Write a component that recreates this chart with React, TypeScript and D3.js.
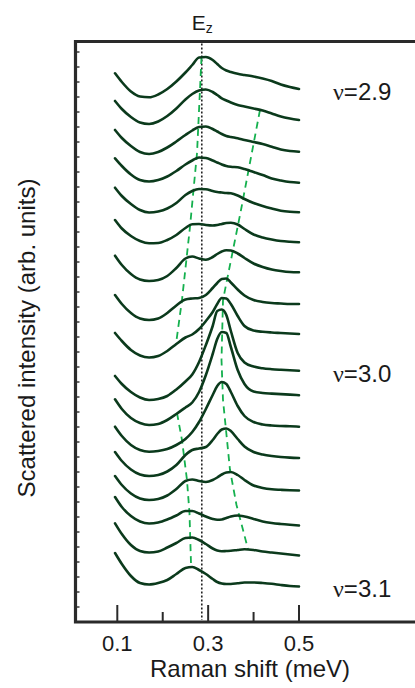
import React from 'react';
import * as d3 from 'd3';

// Raman shift sample positions (meV), shared by every spectrum
const shifts = [0.095, 0.11, 0.13, 0.15, 0.17, 0.19, 0.21, 0.23, 0.25, 0.265, 0.28, 0.295, 0.31, 0.32, 0.33, 0.34, 0.35, 0.365, 0.38, 0.40, 0.42, 0.44, 0.46, 0.48, 0.50];

// vertical offsets of each spectrum (arb. units), top (nu=2.9) to bottom (nu=3.1)
const offsets = [533, 502, 470, 439, 410, 380, 350, 318, 288, 251, 227, 195, 164, 132, 97, 67, 36];

// intensities relative to each offset (arb. units)
const s01 = [15.7, 7, -2.5, -7.5, -8.3, -5.5, 0, 7.5, 16.5, 24, 31.5, 32, 29, 25, 21, 18.5, 17, 15.2, 14, 12.5, 10.5, 8, 4.5, 2, 0];
const s02 = [19, 11, 3, -2.5, -4, -1.5, 4, 11.5, 20.5, 26, 29.5, 30.5, 28, 25, 21.7, 19.5, 17.5, 15, 13.5, 11.5, 9.5, 6.5, 3.5, 1.5, 0];
const s03 = [22, 14, 6, 0, -2, 0, 4.5, 10.5, 17, 21.5, 25, 25.5, 23, 20.5, 18, 16, 15, 13.7, 12, 10, 8, 5.3, 2.5, 1, 0.3];
const s04 = [24.7, 17, 8.5, 3, 1.5, 3, 6.5, 12, 18.5, 22.5, 25.5, 25, 22.5, 20.5, 18.5, 17, 16.2, 15.7, 14, 11, 8, 4.5, 2.5, 1, 0.3];
const s05 = [24.3, 16, 8, 2, -0.5, 0.5, 3.5, 9, 17, 21, 23, 22.8, 21, 20, 19.5, 19, 18.7, 16.5, 13, 9, 6, 3.5, 1.3, 0.2, -0.3];
const s06 = [22, 13.5, 6, 1, -1.3, -1, 2, 7, 14, 17.8, 18, 17, 16.5, 17, 18, 19, 19.2, 17.5, 13, 7.5, 4.5, 2.5, 1, 0.2, -0.3];
const s07 = [16.3, 7, -2, -7.5, -9, -8, -4, 4, 13.5, 15.5, 13.5, 12.2, 15, 18, 20.5, 21.8, 21.5, 18.5, 14, 8.5, 5, 2.5, 1, 0, -0.3];
const s08 = [9, 0, -9, -14.5, -16, -14.5, -9, -1.5, 4.5, 5.5, 6, 9, 16, 21, 25, 25.5, 21.5, 14.5, 8.5, 4, 2, 1, 0.5, 0, 0];
const s09 = [1, -7, -16, -21.5, -23.5, -22, -17, -10, -3.5, -0.5, 5, 13, 22, 30, 36, 35.5, 30, 18, 8, 3.5, 2.2, 1.5, 1, 0.5, 0];
const s10 = [-5, -13, -21, -26.5, -29, -28, -25, -18.5, -10.5, -3.5, 9, 26, 45, 60, 61.5, 56, 40, 18, 8.5, 4.5, 2.7, 1.8, 1.2, 0.7, 0.3];
const s11 = [-4.3, -14, -23, -28, -30, -29, -25, -19, -12.5, -7.5, 3, 20, 41, 56, 63, 62, 48, 25, 11, 3.5, 2, 1.4, 0.9, 0.4, -0.2];
const s12 = [0.3, -9, -18, -23, -24.7, -24, -22, -18, -12, -5, 5, 18, 32, 41, 45, 43, 35, 21, 11, 5, 2.5, 1.5, 1, 0.7, 0.3];
const s13 = [6, -3, -11.5, -16.5, -18, -17, -13.5, -7, 3, 8, 9.5, 11, 18, 24, 28.5, 29.5, 27, 19, 11.5, 6, 3.5, 2, 1, 0.4, 0];
const s14 = [14, 5, -3.5, -8.5, -10, -9, -5.5, 1, 9, 10.5, 9, 8, 10, 12.5, 15.5, 17.5, 18, 15, 10, 4.5, 2, 0.7, 0.2, -0.2, -0.5];
const s15 = [28, 18, 9, 3.5, 1.5, 2.5, 5.5, 9.5, 14, 14, 11.5, 8.5, 6, 5.2, 5.5, 7, 8.5, 9.5, 8.5, 6, 3.5, 2, 1, 0.2, -0.5];
const s16 = [31.7, 21, 10, 4, 2.5, 3.5, 7.5, 12, 17, 17.5, 15, 11, 6.5, 4.5, 3.8, 4, 4.2, 5, 5.7, 5, 3.5, 2.5, 1.5, 0.5, -0.5];
const s17 = [33, 22, 10, 3, 1.5, 3, 6, 12, 18, 19, 16, 12, 7, 4, 2.5, 2, 2, 2.7, 3.5, 3.5, 3, 2.2, 1, 0, -0.5];
const spectra = [s01, s02, s03, s04, s05, s06, s07, s08, s09, s10, s11, s12, s13, s14, s15, s16, s17];

// peak-tracking guides: [shift (meV), intensity (arb. units)]
const guideUpperLeft = [[0.2854, 565], [0.2755, 469], [0.260, 395], [0.2424, 322], [0.2292, 278]];
const guideRight = [[0.4141, 512], [0.3723, 412], [0.3327, 322], [0.3294, 262], [0.3327, 222], [0.3393, 192], [0.3481, 152], [0.3624, 117], [0.3877, 73]];
const guideLowerLeft = [[0.2314, 209], [0.2424, 182], [0.2534, 142], [0.2589, 109], [0.2622, 59]];

const ezShift = 0.286;
const xMajorTicks = [0.1, 0.3, 0.5];
const xMinorTicks = [0.2, 0.4];
const yMinorTicks = d3.range(15, 580, 15);
const fillingLabels = [
  { nu: '2.9', spectrum: 0 },
  { nu: '3.0', spectrum: 9 },
  { nu: '3.1', spectrum: 16 },
];

const W = 415;
const H = 688;
const frameLeft = 75.5;
const frameTop = 41.5;
const frameBottom = 622;

export default function App() {
  const x = d3.scaleLinear().domain([0.1, 0.5]).range([117.3, 299]);
  const y = d3.scaleLinear().domain([0, 581]).range([622, 41]);

  const line = d3
    .line<number>()
    .x((_, i) => x(shifts[i]))
    .y((d) => d)
    .curve(d3.curveMonotoneX);

  const guide = d3
    .line<number[]>()
    .x((d) => x(d[0]))
    .y((d) => y(d[1]));

  const sans = '"Liberation Sans", Arial, sans-serif';
  const serif = '"Liberation Serif", "Times New Roman", serif';
  const axisColor = '#2a2a2a';

  return (
    <svg width={W} height={H} style={{ position: 'absolute', left: 0, top: 0, background: '#fff' }}>
      {/* Ez marker */}
      <line x1={x(ezShift)} x2={x(ezShift)} y1={frameTop + 2} y2={frameBottom - 2} stroke="#222" strokeWidth={1.6} strokeDasharray="2,2" />
      <text x={x(ezShift) - 10} y={30} fontFamily={sans} fontSize={21} fill="#1a1a1a">
        E<tspan fontSize={14} dy={3}>z</tspan>
      </text>

      {/* guides */}
      {[guideUpperLeft, guideRight, guideLowerLeft].map((g, i) => (
        <path key={'g' + i} d={guide(g) || ''} fill="none" stroke="#14b04e" strokeWidth={1.8} strokeDasharray="7,5" />
      ))}

      {/* spectra */}
      {spectra.map((s, i) => (
        <path
          key={'s' + i}
          d={line(s.map((v) => y(offsets[i] + v))) || ''}
          fill="none"
          stroke="#0b3a1c"
          strokeWidth={2.6}
          strokeLinejoin="round"
          strokeLinecap="round"
        />
      ))}

      {/* frame */}
      <path d={`M${W + 5},${frameTop} H${frameLeft} V${frameBottom} H${W + 5}`} fill="none" stroke={axisColor} strokeWidth={3.2} />

      {/* y minor ticks */}
      {yMinorTicks.map((t) => (
        <line key={'yt' + t} x1={frameLeft + 1.5} x2={frameLeft + 4} y1={y(t)} y2={y(t)} stroke={axisColor} strokeWidth={1.4} />
      ))}

      {/* x ticks */}
      {xMajorTicks.map((t) => (
        <line key={'xM' + t} x1={x(t)} x2={x(t)} y1={frameBottom - 17} y2={frameBottom} stroke={axisColor} strokeWidth={2} />
      ))}
      {xMinorTicks.map((t) => (
        <line key={'xm' + t} x1={x(t)} x2={x(t)} y1={frameBottom - 10} y2={frameBottom} stroke={axisColor} strokeWidth={2} />
      ))}
      {xMajorTicks.map((t) => (
        <text key={'xl' + t} x={x(t)} y={651} textAnchor="middle" fontFamily={sans} fontSize={22} fill="#1a1a1a">
          {d3.format('.1f')(t)}
        </text>
      ))}
      <text x={250} y={677} textAnchor="middle" fontFamily={sans} fontSize={24} fill="#1a1a1a">
        Raman shift (meV)
      </text>
      <text transform="translate(35,338) rotate(-90)" textAnchor="middle" fontFamily={sans} fontSize={24} fill="#1a1a1a">
        Scattered intensity (arb. units)
      </text>

      {/* filling factor labels */}
      {fillingLabels.map((l) => (
        <text key={l.nu} x={333} y={y(offsets[l.spectrum]) + 11} fontFamily={sans} fontSize={24} fill="#1a1a1a">
          <tspan fontFamily={serif}>ν</tspan>={l.nu}
        </text>
      ))}
    </svg>
  );
}
